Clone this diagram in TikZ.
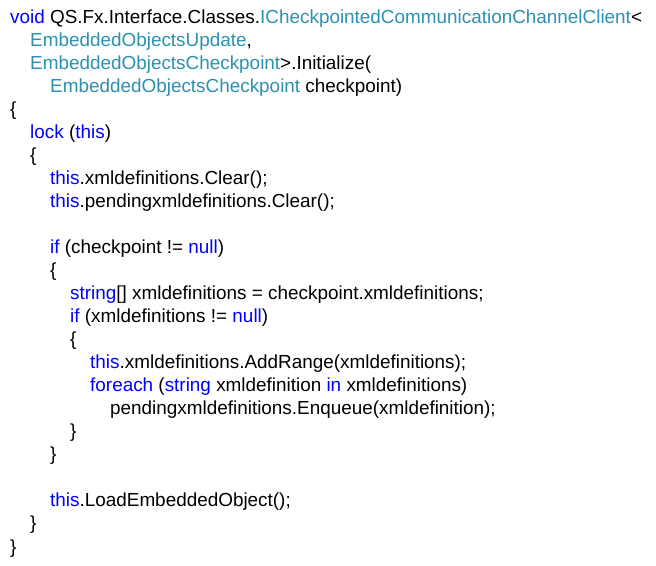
\documentclass[tikz,border=0pt]{standalone}
\usepackage{fontspec}
\setmainfont{Liberation Sans}
\definecolor{kwblue}{RGB}{0,0,255}
\definecolor{tyteal}{RGB}{43,145,175}
\newcommand{\kw}[1]{\textcolor{kwblue}{#1}}
\newcommand{\ty}[1]{\textcolor{tyteal}{#1}}
\begin{document}
\begin{tikzpicture}[x=1pt,y=1pt]

    \tikzset{
      codeline/.style={
        anchor=base west,
        inner sep=0pt,
        font=\fontsize{18.9}{22}\selectfont,
      },
    }
    \useasboundingbox (0,0) rectangle (656,565);
	\node[codeline] (l0) at (10+20*0,565-24-23*0) {\kw{void} QS.Fx.Interface.Classes.\ty{ICheckpointedCommunicationChannelClient}<};
	\node[codeline] (l1) at (10+20*1,565-24-23*1) {\ty{EmbeddedObjectsUpdate},};
	\node[codeline] (l2) at (10+20*1,565-24-23*2) {\ty{EmbeddedObjectsCheckpoint}>.Initialize(};
	\node[codeline] (l3) at (10+20*2,565-24-23*3) {\ty{EmbeddedObjectsCheckpoint} checkpoint)};
	\node[codeline] (l4) at (10+20*0,565-24-23*4) {\{};
	\node[codeline] (l5) at (10+20*1,565-24-23*5) {\kw{lock} (\kw{this})};
	\node[codeline] (l6) at (10+20*1,565-24-23*6) {\{};
	\node[codeline] (l7) at (10+20*2,565-24-23*7) {\kw{this}.xmldefinitions.Clear();};
	\node[codeline] (l8) at (10+20*2,565-24-23*8) {\kw{this}.pendingxmldefinitions.Clear();};
	\node[codeline] (l10) at (10+20*2,565-24-23*10) {\kw{if} (checkpoint != \kw{null})};
	\node[codeline] (l11) at (10+20*2,565-24-23*11) {\{};
	\node[codeline] (l12) at (10+20*3,565-24-23*12) {\kw{string}[] xmldefinitions = checkpoint.xmldefinitions;};
	\node[codeline] (l13) at (10+20*3,565-24-23*13) {\kw{if} (xmldefinitions != \kw{null})};
	\node[codeline] (l14) at (10+20*3,565-24-23*14) {\{};
	\node[codeline] (l15) at (10+20*4,565-24-23*15) {\kw{this}.xmldefinitions.AddRange(xmldefinitions);};
	\node[codeline] (l16) at (10+20*4,565-24-23*16) {\kw{foreach} (\kw{string} xmldefinition \kw{in} xmldefinitions)};
	\node[codeline] (l17) at (10+20*5,565-24-23*17) {pendingxmldefinitions.Enqueue(xmldefinition);};
	\node[codeline] (l18) at (10+20*3,565-24-23*18) {\}};
	\node[codeline] (l19) at (10+20*2,565-24-23*19) {\}};
	\node[codeline] (l21) at (10+20*2,565-24-23*21) {\kw{this}.LoadEmbeddedObject();};
	\node[codeline] (l22) at (10+20*1,565-24-23*22) {\}};
	\node[codeline] (l23) at (10+20*0,565-24-23*23) {\}};

\end{tikzpicture}
\end{document}
